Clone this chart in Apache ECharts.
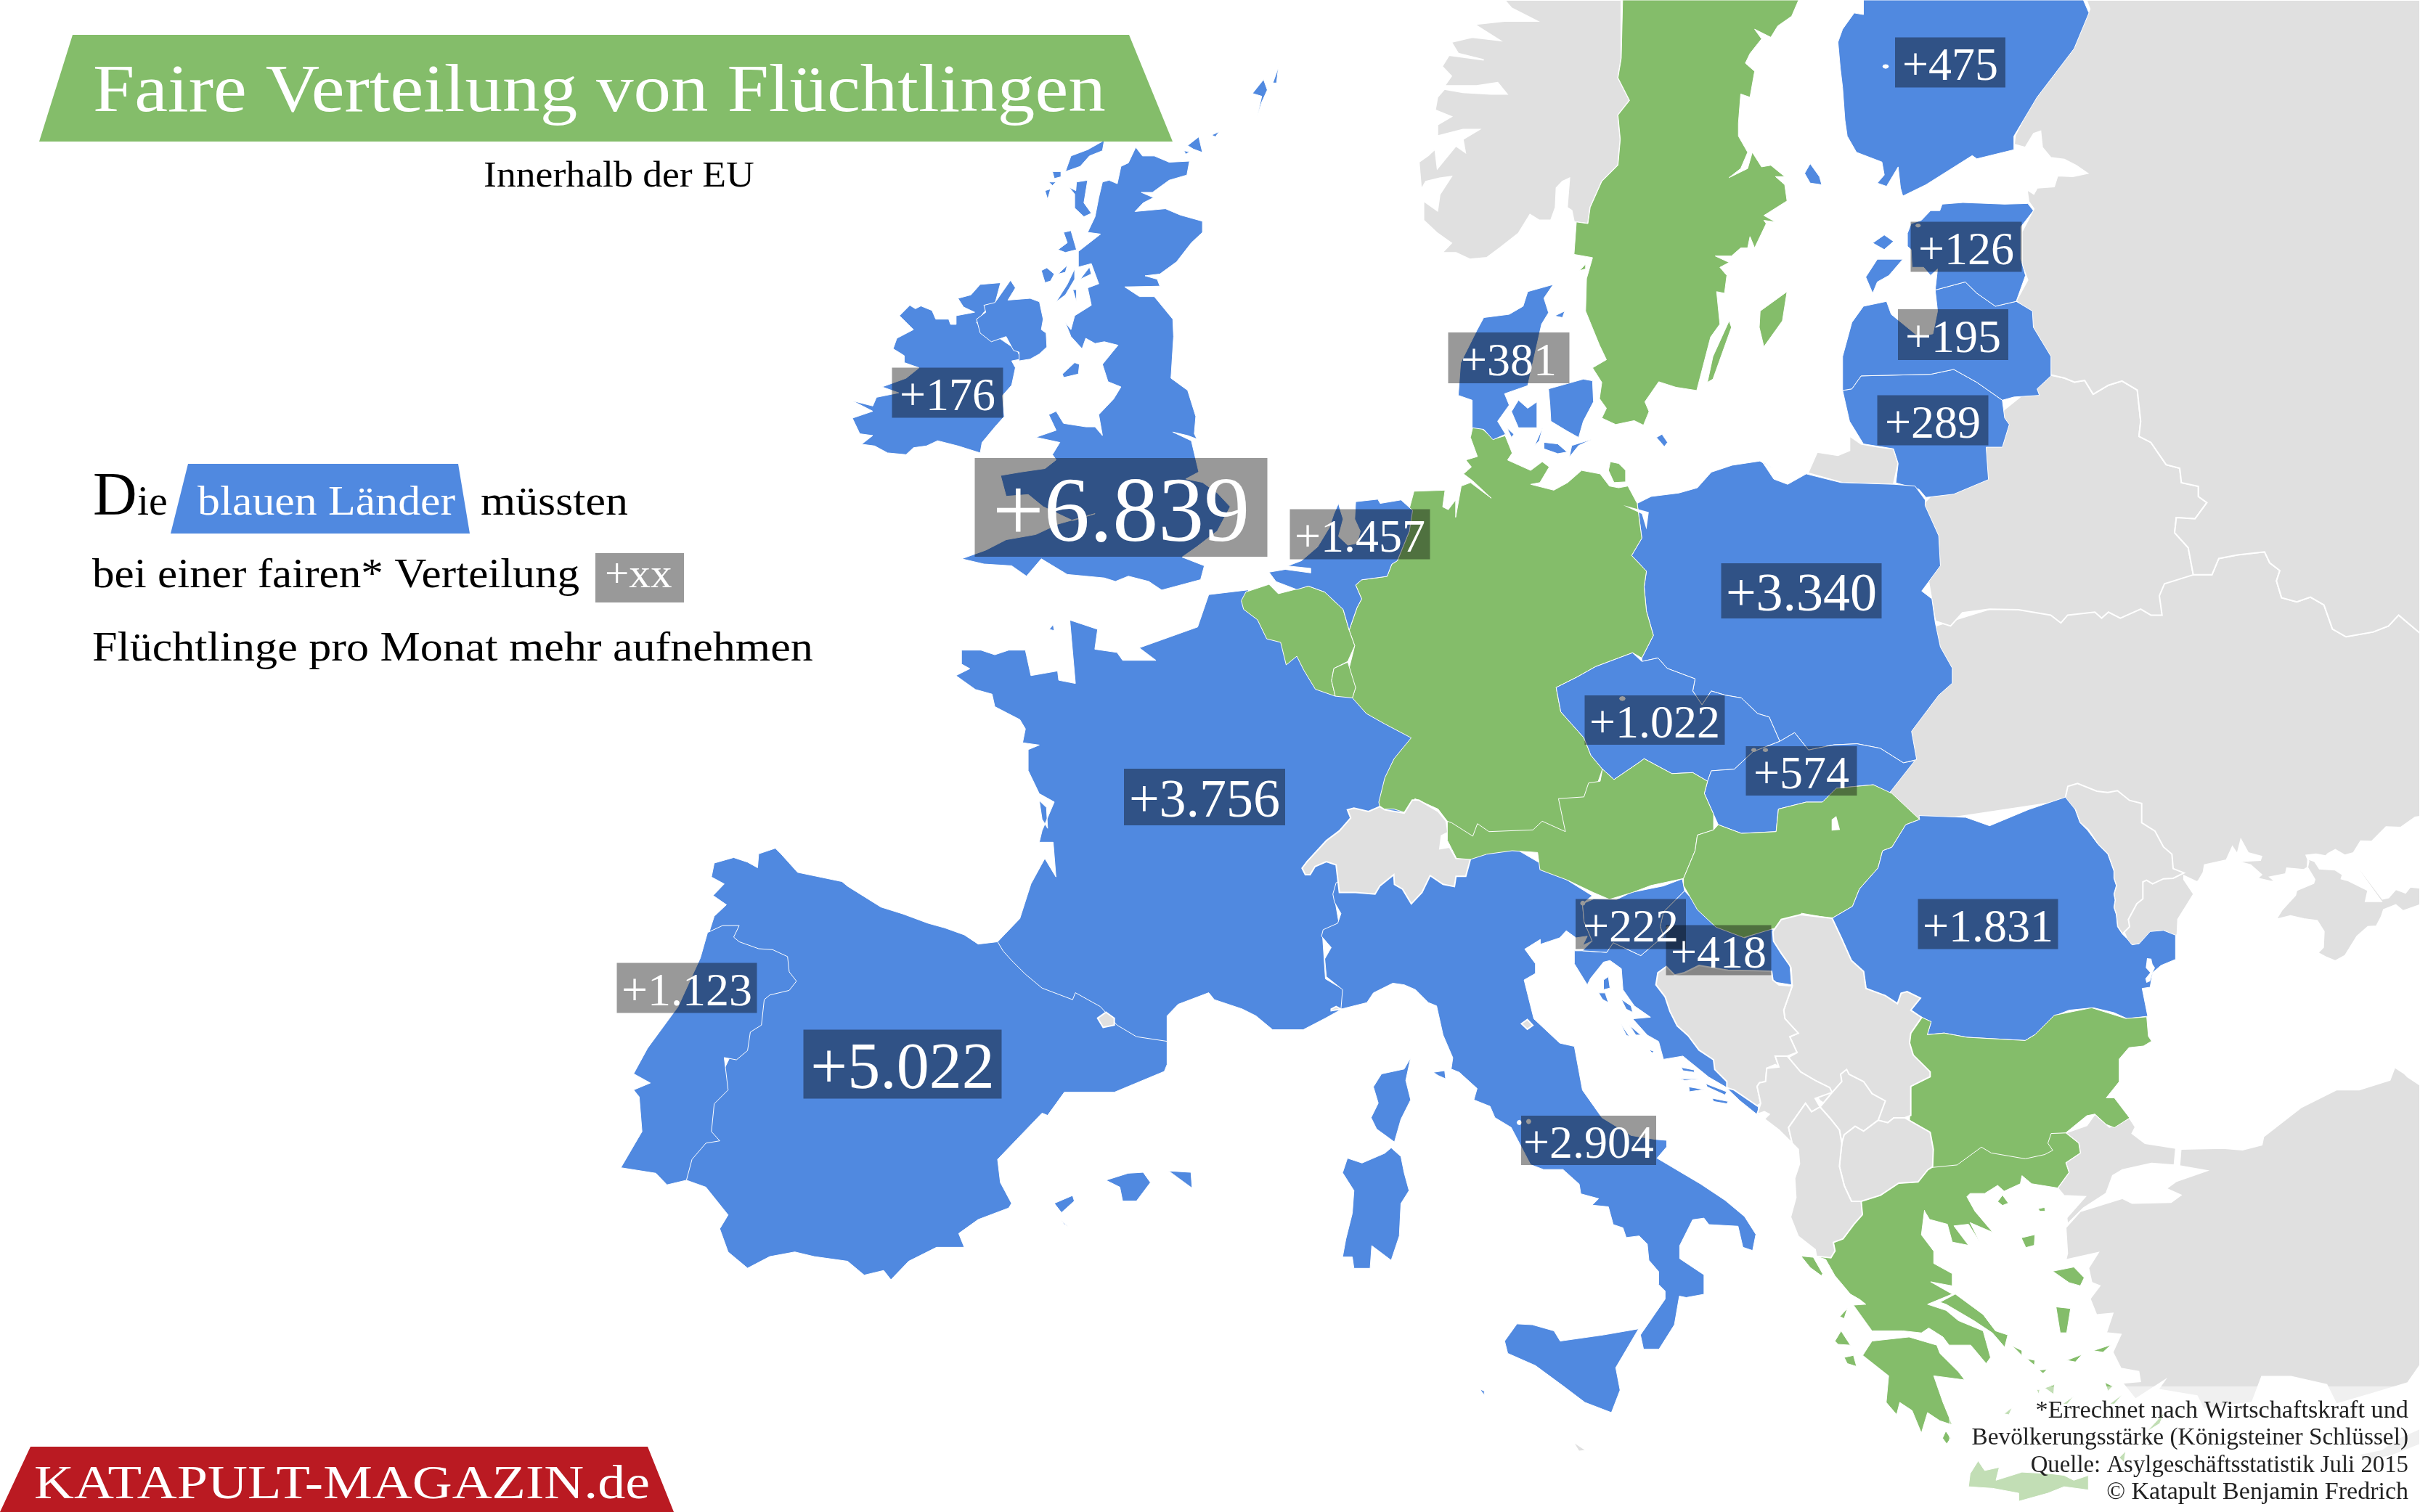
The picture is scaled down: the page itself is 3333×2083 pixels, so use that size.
<!DOCTYPE html>
<html>
<head>
<meta charset="utf-8">
<title>Faire Verteilung von Flüchtlingen</title>
<script src="https://cdn.jsdelivr.net/npm/echarts@6/dist/echarts.min.js"></script>
<style>html,body{margin:0;background:#fff}#main{width:3333px;height:2083px}</style>
</head>
<body>
<div id="main"></div>
<script>
// Daten: zusaetzliche Fluechtlinge pro Monat
var labelCountries = ['Vereinigtes Königreich','Spanien','Frankreich','Polen','Italien','Rumänien','Niederlande','Portugal','Tschechien','Slowakei','Finnland','Kroatien','Dänemark','Litauen','Slowenien','Lettland','Irland','Estland'];
var extraPerMonth = [6839,5022,3756,3340,2904,1831,1457,1123,1022,574,475,418,381,289,222,195,176,126];
var blueCountries = ['Vereinigtes Königreich','Irland','Nordirland','Spanien','Portugal','Frankreich','Italien','Polen','Rumänien','Niederlande','Tschechien','Slowakei','Finnland','Kroatien','Dänemark','Litauen','Slowenien','Lettland','Estland'];
var greenCountries = ['Schweden','Deutschland','Belgien','Luxemburg','Österreich','Ungarn','Griechenland','Bulgarien'];
var greyCountries = ['Ukraine','Belarus','Russland','Moldau','Kaliningrad','Türkei','Norwegen','Schweiz','Andorra','Serbien','Bosnien','Montenegro','Kosovo','Mazedonien','Albanien','Malta','San Marino','Monaco'];

var frames = {
  A:[1100,100,1.96,2.09], B:[1900,0,1.568,2.24], C:[800,800,1.3067,1.568], D:[1700,550,1.568,2.09],
  E:[2000,1200,1.176,1.776], F:[2600,0,2.139,1.206], G:[2833,1050,3,3], H:[2633,1383,2.24,2.24],
  I:[1800,1100,2.24,2.24], J:[2250,1250,3,3]
};
function ring(str){
  var f = null, out = [];
  str.trim().split(/\s+/).forEach(function(t){
    if (frames[t]) { f = frames[t]; return; }
    var p = t.split(',');
    out.push([f[0]+p[0]/f[2], -(f[1]+p[1]/f[3])]);
  });
  return out;
}
// kleine Loecher (Staedte), die unter den Kaesten grau durchscheinen
function dot(fr,x,y,r){
  var d = r*0.7;
  return fr+' '+(x-r)+','+y+' '+(x-d)+','+(y-d)+' '+x+','+(y-r)+' '+(x+d)+','+(y-d)+' '+(x+r)+','+y+' '+(x+d)+','+(y+d)+' '+x+','+(y+r)+' '+(x-d)+','+(y+d);
}

var shapes = {};
shapes['Ukraine'] = [
 'F 900,955 955,955 975,928 1030,922 1110,917 1125,935 1155,948 1145,965 1160,993 1205,1000 1245,992 1285,1005 1310,1045 1350,1058 1430,1050 1475,1040 1505,1022 1568,1052 G 1500,225 1480,228 1420,270 1360,268 1300,328 1255,326 1225,375 1190,385 1150,362 1120,378 1110,388 1070,380 1030,385 1040,410 1035,435 1020,445 950,438 945,462 880,475 905,495 960,497 880,492 750,462 830,478 845,465 800,425 745,410 840,405 845,390 790,375 760,320 745,380 725,350 700,405 610,425 605,455 585,490 578,495 525,470 525,485 565,545 500,650 497,715 300,760 200,500 100,260 30,160 F 80,1368 0,1330 30,1270 60,1210 140,1040 300,1012',
 'G 1037,400 1065,410 1085,440 1150,445 1180,465 1175,482 1205,490 1285,530 1275,575 1340,575 1225,415 1235,420 1345,565 1370,560 1400,525 1440,540 1460,515 1500,520 1500,590 1430,615 1400,590 1350,610 1340,640 1320,678 1285,680 1240,720 1190,800 1150,822 1110,805 1078,788 1100,765 1103,700 1075,655 1020,648 965,635 905,650 930,610 985,550 990,530 1060,500 1065,485 1035,435'
];
shapes['Belarus'] = ['F 470,623 480,623 520,628 550,635 580,632 605,655 650,640 690,633 735,648 745,700 740,725 775,735 820,772 860,778 865,802 915,808 915,825 940,835 905,862 850,860 845,885 885,910 900,955 815,970 800,990 808,1022 775,1022 745,1012 685,1027 650,1017 630,1027 610,1017 530,1022 510,1035 480,1022 385,1013 300,1012 220,1018 185,1040 140,1032 100,900 100,840 200,780 300,700'];
shapes['Russland'] = ['F 585,0 595,15 540,85 480,130 420,175 375,225 372,240 405,245 430,222 450,218 455,245 480,262 520,265 555,275 588,288 545,293 500,292 490,310 440,312 430,322 410,315 415,335 430,347 395,385 395,440 412,465 378,500 420,520 430,555 478,595 480,623 520,628 550,635 580,632 605,655 650,640 690,633 735,648 745,700 740,725 775,735 820,772 860,778 865,802 915,808 915,825 940,835 905,862 850,860 845,885 885,910 900,955 955,955 975,928 1030,922 1110,917 1125,935 1155,948 1145,965 1160,993 1205,1000 1245,992 1285,1005 1310,1045 1350,1058 1430,1050 1475,1040 1505,1022 1568,1052 1568,0'];
shapes['Moldau'] = ['G 35,145 45,100 85,88 165,120 210,125 250,118 300,158 350,170 350,250 405,285 440,350 475,380 480,440 525,458 480,480 440,482 395,503 370,488 355,495 355,565 330,585 295,650 300,680 270,710 250,680 245,630 235,600 240,570 235,545 245,510 235,480 235,450 210,380 170,340 130,280 95,250 75,195 40,180'];
shapes['Kaliningrad'] = ['B 1015,1345 1015,1390 990,1405 945,1395 925,1460 1000,1490 1110,1495 1120,1430 1110,1385 1080,1380 1040,1370'];
shapes['Türkei'] = [
 'H 1568,250 1530,225 1520,215 1490,195 1475,235 1380,265 1310,265 1200,320 1085,410 1080,435 1020,450 960,445 830,448 826,500 910,515 815,548 785,570 830,590 800,612 680,615 650,600 520,640 475,690 480,770 475,790 575,768 545,815 555,860 580,870 550,910 570,960 620,955 600,1015 645,1020 620,1075 645,1125 700,1135 705,1165 650,1170 690,1220 780,1162 760,1190 880,1210 900,1250 1050,1230 1080,1150 1170,1150 1280,1175 1310,1235 1430,1200 1530,1170 1568,1115',
 'H 672,352 690,380 680,400 720,430 815,445 810,498 740,492 650,512 620,530 600,585 530,630 480,680 478,660 535,595 470,592 450,568 485,520 475,490 520,460 515,430 475,398 540,375 565,340 610,380 640,370',
 'H 1568,1310 1500,1340 1450,1375 1380,1390 1400,1410 1480,1395 1568,1360'
];
shapes['Norwegen'] = ['B 522,0 522,180 515,240 540,310 515,355 520,430 515,510 480,560 455,640 450,690 420,685 415,650 405,640 410,550 395,560 382,580 380,640 370,680 345,680 325,662 300,720 260,765 232,795 195,800 165,780 135,780 155,750 125,720 95,680 95,620 125,650 130,600 155,545 130,550 100,560 90,585 85,500 105,480 120,460 125,520 165,450 185,470 180,430 215,400 180,400 125,420 125,385 155,360 120,340 125,300 140,275 180,285 240,290 275,290 255,255 210,265 140,265 155,235 135,205 150,170 225,185 170,165 155,130 200,115 260,125 205,75 270,65 340,65 285,25 270,0'];
shapes['Schweden'] = [
 'B 525,0 522,180 515,240 540,310 515,355 520,430 515,510 480,560 455,640 450,690 425,685 420,785 460,795 447,860 445,960 475,1065 490,1110 460,1135 480,1180 475,1230 490,1260 480,1290 510,1310 550,1298 570,1312 582,1270 573,1240 603,1178 640,1195 685,1205 715,1040 735,1000 728,900 745,905 750,850 735,825 755,810 725,790 760,790 780,765 795,765 800,730 810,765 835,690 830,680 855,685 830,665 880,620 875,570 855,545 875,545 845,510 825,515 805,470 795,520 755,548 780,520 795,470 775,420 775,380 780,290 800,300 810,220 790,195 800,165 825,120 810,90 845,115 860,80 890,50 905,0',
 'B 822,960 880,900 870,990 830,1070 820,1010', 'B 708,1180 720,1100 755,990 760,1010 720,1170', 'B 432,835 445,815 445,830'
];
shapes['Finnland'] = ['B 1045,0 1045,45 1025,40 1000,90 990,130 995,210 1000,270 1005,370 1010,420 1030,470 1085,500 1090,540 1075,565 1095,575 1120,515 1125,580 1130,605 1180,570 1280,480 1290,490 1370,462 1370,420 1420,300 1500,150 1532,40 1520,0','B 918,535 930,505 950,545 955,570 930,565'];
shapes['Litauen'] = ['B 1000,1205 1020,1200 1040,1160 1190,1155 1240,1140 1290,1180 1345,1235 1350,1290 1360,1310 1345,1380 1310,1380 1315,1480 1240,1525 1180,1535 1165,1510 1115,1490 1120,1430 1110,1385 1045,1370 1015,1300'];
shapes['Lettland'] = ['B 1000,1205 1000,1100 1020,995 1045,945 1095,930 1105,970 1165,1040 1195,1030 1205,960 1200,895 1265,870 1290,905 1330,945 1375,930 1410,960 1412,1010 1450,1100 1450,1160 1420,1200 1425,1220 1370,1225 1345,1235 1290,1180 1240,1140 1190,1155 1040,1160 1020,1200'];
shapes['Estland'] = ['B 1170,680 1190,650 1210,650 1215,630 1260,625 1350,630 1400,628 1412,650 1385,700 1385,800 1395,850 1375,930 1330,945 1290,905 1265,870 1200,895 1205,830 1190,850 1175,825 1150,825 1148,770 1140,760 1140,720 1148,690','B 1050,855 1075,800 1130,800 1100,850 1075,870 1065,905','B 1065,750 1090,725 1110,745 1090,770'];
shapes['Polen'] = ['D 870,300 900,280 960,270 1000,255 1030,210 1075,190 1135,178 1165,200 1140,180 1165,230 1195,245 1235,215 1310,240 1425,245 1470,250 1492,290 F 110,840 150,890 155,940 100,982 130,995 140,1035 155,1075 190,1110 190,1135 150,1155 70,1215 85,1262 D 1445,1047 1395,1005 1345,992 1295,995 1240,1010 1210,960 1178,985 1155,915 1130,905 1095,860 1060,852 1030,840 1010,880 990,840 995,805 935,775 915,745 880,755 880,745 905,680 890,610 885,540 890,495 858,450 880,400'];
shapes['Spanien'] = ['C 750,780 715,785 690,765 655,750 625,740 580,720 540,705 480,660 470,650 390,630 360,590 350,578 320,590 318,620 300,608 275,598 240,610 235,640 258,655 238,680 262,700 240,725 232,755 240,800 280,1000 200,1200 190,1295 225,1310 265,1370 250,1400 265,1450 300,1485 340,1460 385,1450 420,1460 480,1470 510,1500 545,1490 558,1510 590,1470 640,1440 690,1440 680,1410 715,1380 770,1355 775,1345 755,1300 750,1250 830,1150 840,1155 855,1130 870,1105 960,1105 1000,1085 1050,1060 1055,1045 1055,995 1000,960 880,880 780,790','C 945,1295 985,1280 1012,1278 1025,1300 1000,1340 975,1340 970,1310','C 1058,1275 1098,1278 1100,1312 1075,1290','C 852,1345 885,1328 888,1340 865,1365','C 865,1382 877,1395 870,1390'];
shapes['Portugal'] = ['C 228,760 255,745 285,745 275,770 285,780 320,795 345,797 372,812 375,845 388,865 375,885 340,895 330,905 325,960 305,975 300,1015 280,1035 258,1030 265,1100 240,1130 235,1190 250,1210 225,1215 200,1250 190,1295 155,1305 135,1280 72,1268 110,1190 105,1115 95,1100 125,1085 95,1065 120,1010 175,920 215,815'];
shapes['Frankreich'] = ['C 1130,30 1110,100 1005,145 1035,172 975,172 965,155 925,148 930,105 880,85 890,222 860,215 858,195 810,205 800,150 770,150 745,160 720,150 685,150 685,180 700,190 675,205 710,235 740,245 745,272 790,300 800,320 795,350 825,355 805,365 805,410 825,460 852,478 830,540 825,565 850,565 855,640 835,600 810,655 790,730 750,780 760,800 775,820 800,850 830,880 885,905 890,890 935,920 965,960 1000,985 1055,995 1055,940 1075,915 1130,890 1140,905 1190,925 1215,940 1245,970 1300,970 1340,945 1370,925 1375,885 1340,860 1335,770 1365,745 1355,675 1400,600 1500,500 1500,340 1400,200 1300,100 1200,20','C 825,475 838,490 840,535 830,515','C 843,105 850,95 852,108'];
shapes['Andorra'] = ['C 930,945 945,932 960,945 960,960 940,965'];
shapes['Italien'] = [
 'I 80,295 85,320 105,355 95,385 50,405 45,425 75,460 55,495 60,550 110,590 105,650 185,630 205,600 265,570 300,575 335,590 375,630 400,640 420,730 450,800 445,835 470,845 525,895 515,930 565,950 580,985 630,1015 690,1130 730,1145 790,1145 840,1190 845,1220 900,1235 880,1255 930,1260 945,1315 975,1325 985,1355 1025,1350 1050,1375 1055,1425 1085,1460 1085,1500 1105,1520 1105,1545 E 305,1135 310,1170 335,1170 360,1110 368,1040 I 1170,1540 1225,1530 1225,1470 1150,1420 1150,1380 1190,1300 1225,1295 1240,1315 1330,1320 1345,1385 1375,1395 1385,1345 1350,1290 1290,1240 1215,1190 1080,1110 1110,1075 1110,1055 1075,1052 1000,1040 910,985 850,900 825,765 780,755 700,680 670,560 705,540 705,510 672,465 720,435 720,450 780,430 800,408 830,430 865,425 850,455 825,465 880,440 855,380 850,325 880,300 720,200 600,130 450,130 430,180 200,200 90,260',
 'I 390,845 425,840 428,865 405,855',
 'E 85,1150 105,1108 130,1110 165,1125 175,1150 245,1135 302,1120 265,1215 272,1270 258,1325 215,1300 180,1260 135,1210 90,1180',
 'E 45,1268 52,1272 52,1282',
 'I 125,1110 170,1125 240,1095 260,1078 290,1105 300,1155 315,1210 290,1250 285,1350 260,1425 200,1380 195,1450 145,1450 140,1415 110,1415 120,1360 140,1280 145,1210 110,1155',
 'I 320,800 305,870 320,930 290,990 270,1060 215,1020 198,985 220,940 205,890 230,850 300,835'
];
shapes['San Marino'] = ['I 662,695 680,682 697,700 680,712'];
shapes['Monaco'] = ['I 75,650 90,642 105,650 75,655'];
shapes['Malta'] = ['E 195,1395 218,1418 205,1420'];
shapes['Kroatien'] = [
 'I 1165,285 1215,340 1270,395 1350,430 1435,400 1465,470 1490,515 1495,575 1400,560 1200,700 1300,850 J 385,745 I 1240,860 1160,795 1100,805 1085,750 1050,730 1005,680 1060,675 1010,640 975,590 970,525 935,500 915,505 875,555 865,575 825,510 825,470 850,470 925,475 945,445 1030,485 1100,425 1090,395 1100,350',
 'J 388,750 420,755 515,825 515,860 440,800',
 'I 900,600 920,600 930,630 912,620','I 915,560 930,550 935,585 915,590','I 970,620 1000,640 1005,660 985,650','I 968,695 995,735 985,730','I 995,700 1030,730 1015,730','I 1055,775 1070,780 1065,785','I 1155,830 1195,838 1195,845 1160,840','I 1150,865 1220,865 1165,870','I 1178,890 1225,898 1180,905','I 1230,880 1295,905 1290,915 1235,890','I 1250,925 1300,935 1295,942 1255,935'
];
shapes['Slowenien'] = ['I 850,325 885,310 955,312 1000,290 1100,270 1158,248 1165,285 1100,350 1090,395 1100,425 1030,485 945,445 925,475 850,470 880,440 855,380'];
shapes['Deutschland'] = [
 'D 515,80 535,85 560,115 585,105 600,155 590,175 640,205 665,180 680,195 660,240 640,245 690,262 720,240 750,205 790,215 810,250 830,255 850,250 870,300 880,400 858,450 890,495 885,540 890,610 905,680 880,745 860,730 830,745 780,770 740,800 695,830 705,900 755,975 770,1025 795,1065 760,1200 720,1290 480,1290 465,1240 460,1215 440,1180 390,1150 380,1195 345,1180 315,1180 312,1160 325,1090 345,1035 382,975 325,935 285,905 255,860 262,830 245,790 260,710 248,665 265,600 275,575 262,535 275,520 330,510 340,475 352,465 378,380 378,315 388,265 455,262 450,310 462,318 478,290 478,340 490,250 510,240 555,285 515,235 495,215 512,195 500,175 525,165 510,110',
 'D 812,180 830,185 845,205 845,238 820,240 808,205'
];
shapes['Tschechien'] = ['D 695,830 740,800 780,770 830,745 860,730 880,755 915,745 935,775 995,805 990,840 1010,880 1030,840 1060,852 1095,860 1130,905 1155,915 1178,985 1120,1015 1080,1065 1030,1070 1022,1100 990,1075 945,1078 885,1035 875,1045 820,1095 795,1065 770,1025 755,975 705,900'];
shapes['Slowakei'] = ['D 1178,985 1210,960 1240,1010 1295,995 1345,992 1395,1005 1445,1047 1470,1040 1414,1135 1380,1110 1300,1120 1270,1160 1235,1160 1175,1180 1170,1245 1095,1250 1045,1225 1035,1195 1015,1135 1022,1100 1030,1070 1080,1065 1120,1015'];
shapes['Schweiz'] = ['I -15,215 0,195 60,130 100,100 135,60 125,35 145,30 190,40 225,25 240,35 300,45 325,5 345,5 405,40 430,70 435,105 415,115 410,155 440,150 460,185 505,185 490,240 460,240 455,272 420,265 380,238 355,290 322,325 295,280 270,265 268,235 225,270 210,295 150,290 100,290 90,205 60,195 25,210 10,235 -5,235'];
shapes['Österreich'] = ['D 460,1215 470,1220 515,1258 525,1222 550,1245 645,1240 665,1215 715,1245 700,1150 755,1145 765,1105 790,1100 795,1065 820,1095 875,1045 885,1035 945,1078 990,1075 1022,1100 1015,1135 1035,1195 1035,1240 1000,1255 995,1300 970,1380 900,1400 860,1420 810,1440 775,1420 720,1385 660,1355 655,1305 600,1300 545,1310 510,1325 480,1322 460,1270'];
shapes['Ungarn'] = ['D 1035,1240 1045,1225 1095,1250 1170,1245 1175,1180 1235,1160 1270,1160 1300,1120 1380,1110 1420,1135 1480,1210 1450,1225 1420,1290 1400,1300 1390,1350 1350,1410 1335,1460 1290,1495 1225,1480 1200,1510 1100,1550 1040,1520 1000,1470 970,1400 970,1380 995,1300 1000,1255'];
shapes['Rumänien'] = ['F 92,1355 230,1358 300,1372 415,1345 520,1325 G 35,145 75,195 95,250 125,280 170,340 210,380 235,450 235,480 245,510 235,545 240,570 235,600 245,630 250,680 270,710 290,730 310,755 340,750 385,700 440,695 490,715 490,815 430,840 395,870 385,930 352,935 375,1050 290,1060 235,1035 150,1015 50,1025 0,1045 H 440,35 380,95 350,113 170,103 100,90 48,95 60,55 28,40 J 1145,425 1185,375 1130,348 1105,355 1090,398 1040,365 960,335 950,265 900,220 860,130 820,45 D 1290,1495 1335,1460 1350,1410 1390,1350 1400,1300 1420,1290 1450,1225 1480,1210'];
shapes['Griechenland'] = [
 'J 1235,1072 1215,1085 1175,1135 1095,1140 1020,1190 940,1215 945,1270 910,1310 865,1370 825,1385 832,1420 815,1448 755,1442 E 605,950 620,990 645,1035 660,1048 670,1060 650,1062 680,1125 730,1125 760,1130 772,1118 795,1140 805,1160 840,1160 865,1205 872,1190 860,1125 820,1100 800,1075 770,1060 810,1035 775,1005 810,1015 810,985 780,960 780,930 760,890 765,830 H 40,640 55,665 110,680 125,735 175,745 130,685 175,680 210,735 180,675 250,705 195,640 170,595 180,585 225,585 265,560 285,578 335,555 340,530 370,555 450,568 485,520 475,490 520,460 515,430 475,398 300,400 80,420',
 'E 680,1150 740,1140 785,1160 790,1180 820,1225 830,1245 805,1240 780,1235 795,1300 810,1355 790,1345 770,1325 760,1375 745,1320 725,1300 720,1330 703,1300 707,1235 665,1185',
 'E 815,1035 860,1085 880,1125 900,1135 895,1165 875,1130 845,1100 800,1060 790,1055',
 'H 265,610 280,590 298,615 280,622','H 390,632 410,628 412,640 395,640','H 338,722 380,712 378,745 352,752','H 435,825 500,812 532,845 520,870 485,860','H 445,935 490,940 478,1015 458,1015','H 560,1070 615,1052 590,1075','H 478,1100 525,1082 505,1105','H 392,1130 418,1128 405,1140','H 310,1055 340,1070 340,1085','H 355,1095 380,1100 378,1115','H 596,1168 620,1180 605,1195','H 725,1320 780,1260 765,1295','H 175,1490 180,1450 205,1410 225,1440 270,1430 260,1470 340,1445 430,1450 470,1455 500,1470 545,1455 545,1500 470,1490 420,1510 330,1535 330,1510 250,1495','H 410,1185 440,1175 438,1205','H 465,1235 500,1210 480,1235','H 610,1235 650,1205 625,1235','H 285,1265 310,1245 300,1268','H 105,1318 120,1340 108,1358 95,1340','H 640,1400 660,1380 655,1415','H 385,1190 395,1190 392,1205',
 'E 565,942 585,945 600,985 598,990 580,970','E 628,1090 640,1070 635,1095','E 620,1150 630,1125 645,1160 625,1158','E 635,1190 650,1185 655,1212 640,1205'
];
shapes['Bulgarien'] = ['H 28,40 60,55 48,95 100,90 170,103 350,113 380,95 440,35 555,12 660,45 725,40 730,100 740,115 715,130 670,135 640,170 640,240 600,290 625,290 672,352 625,382 600,372 565,340 540,345 475,398 430,400 420,430 435,452 410,465 350,478 245,460 215,442 140,497 60,505 J 1235,1072 1238,1000 1225,930 1140,880 1145,740 1225,700 1225,680 1155,610 1140,560 1145,520 1190,455'];
shapes['Serbien'] = ['J 575,100 610,50 690,30 820,45 860,130 900,220 950,265 960,335 1040,365 1090,398 1105,355 1130,348 1185,375 1145,425 1190,455 1145,520 1140,560 1155,610 1225,680 1225,700 1145,740 1145,860 1120,870 1075,870 1050,890 1010,880 900,880 770,800 640,620 675,600 645,535 680,520 625,460 620,425 655,325 650,250 645,240 610,190 578,140'];
shapes['Bosnien'] = ['J 100,270 92,320 130,370 150,430 180,490 225,530 270,590 330,630 335,670 385,720 385,745 415,755 510,820 525,810 510,740 520,725 545,720 550,665 585,650 600,660 585,615 635,615 675,600 645,535 680,520 625,460 620,425 655,325 600,320 575,300 570,265 500,262 390,260 270,240 210,270 170,280 135,245'];
shapes['Montenegro'] = ['J 585,615 635,615 690,680 750,715 810,745 820,765 750,790 770,825 735,845 710,810 640,910 655,975 600,920 540,875 560,855 540,845 510,855 525,810 510,740 520,725 545,720 550,665 600,660'];
shapes['Kosovo'] = ['J 770,825 820,765 860,720 855,690 880,670 890,690 950,720 985,770 1040,800 1010,880 950,925 915,905 870,940 860,975 850,920 810,870'];
shapes['Mazedonien'] = ['J 860,975 870,940 915,905 950,925 1010,880 1050,890 1075,870 1120,870 1225,930 1238,1000 1235,1072 1215,1085 1175,1135 1095,1140 1020,1190 940,1215 900,1215 870,1150 850,1070'];
shapes['Albanien'] = ['J 655,975 640,910 710,810 735,845 770,825 810,870 850,920 860,975 850,1070 870,1150 900,1215 940,1215 945,1270 910,1310 865,1370 825,1385 832,1420 815,1448 755,1442 750,1415 680,1360 648,1280 670,1200 665,1120 685,1060 680,1000'];
shapes['Dänemark'] = ['B 375,878 345,890 320,900 310,945 280,970 225,980 210,1020 175,1120 170,1220 200,1235 200,1320 225,1325 245,1357 272,1340 255,1300 280,1250 270,1215 320,1190 350,1000 365,965 355,920','B 365,1200 440,1170 460,1175 462,1240 440,1300 430,1350 405,1330 370,1300 368,1250','B 285,1270 300,1235 320,1260 340,1240 340,1320 300,1320','B 355,1365 385,1370 405,1395 385,1400 355,1385','B 410,1410 415,1375 460,1355 430,1375','B 335,1375 352,1320 345,1360','B 275,1320 290,1340 285,1350','B 378,975 400,960 395,980','B 598,1350 610,1340 622,1365 615,1378'];
shapes['Belgien'] = ['D 15,580 25,555 75,533 95,560 160,538 195,555 235,605 248,665 260,710 245,755 215,775 210,810 218,855 175,835 150,780 135,740 112,765 100,700 70,690 50,635 20,605'];
shapes['Luxemburg'] = ['D 245,757 262,830 255,860 218,855 210,810 215,775'];
shapes['Niederlande'] = ['D 145,465 180,425 205,370 215,330 225,300 228,315 235,345 225,395 245,420 265,415 272,380 260,345 262,295 310,288 315,300 360,290 385,320 378,380 352,465 340,475 330,510 275,520 262,535 275,575 265,600 248,665 235,605 195,555 160,538 135,548 90,525 75,498 110,490 165,500 165,487 115,480'];
shapes['Vereinigtes Königreich'] = [
 'A 910,215 928,240 960,240 1000,258 1055,255 1048,295 1000,310 955,345 925,345 958,360 930,375 908,400 990,392 1030,410 1090,428 1090,460 1060,490 1020,545 975,580 935,585 968,595 975,615 880,617 920,645 960,645 1010,710 1012,760 1005,880 1050,915 1072,990 1068,1040 1075,1055 1050,1045 1010,1035 1060,1060 1080,1150 1045,1170 1090,1180 1130,1210 1165,1250 1130,1320 1075,1365 1035,1395 1095,1420 1085,1460 980,1490 945,1465 890,1450 855,1465 825,1455 775,1450 725,1445 655,1400 615,1450 575,1420 500,1415 460,1405 440,1400 505,1375 560,1345 640,1330 700,1300 800,1270 740,1290 660,1250 620,1215 560,1220 545,1160 600,1150 665,1140 695,1115 685,1100 705,1065 640,1050 695,1030 675,985 695,975 715,1010 775,1020 800,1020 820,1045 810,985 850,940 870,905 835,890 820,840 862,785 825,775 800,780 775,765 765,795 735,760 720,720 735,740 745,700 790,670 780,620 810,608 790,550 755,560 755,515 815,465 780,460 800,415 810,360 820,315 838,310 860,320 870,270 890,260',
 'A 712,868 745,835 758,840 755,868 715,878','A 735,240 780,222 825,195 820,225 785,240 760,270 720,285','A 685,285 708,285 708,300 690,305','A 675,315 695,315 685,325','A 665,340 680,335 672,365','A 730,330 748,340 750,315 780,310 770,375 790,405 770,415 745,390 745,350','A 700,510 725,490 715,460 735,455 750,510 720,518','A 655,570 670,562 690,580 680,600 665,605','A 700,580 725,555 720,575','A 695,660 725,610 745,565 745,595 720,640','A 740,625 750,625 750,660','A 760,595 785,560 790,580','A 1050,210 1080,185 1090,230 1065,220','A 1115,180 1135,170 1125,185','A 1040,225 1055,228 1045,235','A 1225,60 1255,20 1265,50 1250,85 1238,125 1250,68','A 1280,30 1295,-15 1290,30'
];
shapes['Irland'] = ['A 545,605 490,610 465,640 430,650 445,675 475,690 425,700 425,725 410,725 405,710 370,710 360,685 330,672 315,680 300,670 272,700 310,740 265,765 255,795 285,815 285,835 325,850 290,880 225,905 270,922 210,935 200,960 145,945 200,975 145,995 165,1040 200,1045 170,1070 205,1075 240,1095 290,1100 310,1080 345,1075 375,1060 430,1075 490,1095 495,1065 530,1020 555,990 550,930 575,900 585,850 575,830 600,825 590,800 480,720 500,690 530,665'];
shapes['Nordirland'] = ['A 530,662 500,670 505,690 480,710 490,750 520,775 560,760 580,800 595,805 595,830 625,825 650,810 670,790 668,750 655,740 660,710 650,660 625,650 565,655 585,620 572,598'];
shapes['Wasser'] = [
 'G 372,810 390,812 395,835 405,850 395,870 385,905 370,912 365,895 385,870 367,850',
 'D 1290,1210 1300,1200 1308,1240 1290,1242',
 'D 840,305 895,325 890,375 880,330',
 dot('B',1093,205,7), dot('B',1163,696,6), dot('B',188,1040,4), dot('B',1135,965,3), dot('A',272,860,4), dot('D',838,862,7), dot('D',1122,1010,6), dot('D',1147,1010,6), dot('I',851,323,8), dot('I',1115,400,7), dot('I',655,1000,8), dot('I',684,997,8)
];

var drawOrder = ['Ukraine','Belarus','Russland','Moldau','Kaliningrad','Türkei','Norwegen','Schweden','Finnland','Litauen','Lettland','Estland','Polen','Spanien','Portugal','Frankreich','Andorra','Italien','San Marino','Monaco','Malta','Kroatien','Slowenien','Deutschland','Tschechien','Slowakei','Schweiz','Österreich','Ungarn','Rumänien','Griechenland','Bulgarien','Serbien','Bosnien','Montenegro','Kosovo','Mazedonien','Albanien','Dänemark','Belgien','Luxemburg','Niederlande','Irland','Nordirland','Vereinigtes Königreich','Wasser'];

echarts.registerMap('europa', {
  type: 'FeatureCollection',
  features: drawOrder.map(function(name){
    return {type:'Feature', properties:{name:name},
      geometry:{type:'MultiPolygon', coordinates: shapes[name].map(function(s){ return [ring(s)]; })}};
  })
});

function regionStyle(names, color, width){
  return names.map(function(n){
    return {name:n, silent:true, itemStyle:{areaColor:color, borderColor:'#fff', borderWidth:width}};
  });
}
var regions = regionStyle(blueCountries,'#5089e0',1)
  .concat(regionStyle(greenCountries,'#84bd6a',1))
  .concat(regionStyle(greyCountries,'#e0e0e0',2))
  .concat([{name:'Wasser', silent:true, itemStyle:{areaColor:'#fff', borderWidth:0}}]);

// Lage und Groesse der Zahlenkaesten (Mittelpunkt, Breite, Hoehe, Schrift)
var boxCenters = [[1544,699],[1243,1466],[1659,1098],[2481,814],[2188,1571],[2738,1273],[1873,736],[946,1361],[2279,992],[2481,1062],[2686,86],[2367,1309],[2078,493],[2662,579],[2246,1273],[2690,461],[1305,541],[2708,340]];
var boxSizes = [[403,136],[273,95],[222,78],[221,76],[186,68],[193,69],[193,69],[193,69],[193,68],[153,68],[152,69],[145,69],[167,70],[153,69],[152,69],[152,70],[153,69],[153,69]];
var boxFonts = [126,90,74,74,64,64,64,64,64,64,64,64,64,64,64,64,64,64];

function deNumber(v){
  var s = String(v);
  return s.length > 3 ? s.slice(0,-3)+'.'+s.slice(-3) : s;
}
// zwei Lagen: erst die Kaesten, darueber die Zahlen (sitzen im Original etwas unter der Mitte)
var boxData = labelCountries.map(function(name,i){
  return {
    name: name,
    value: [boxCenters[i][0], -boxCenters[i][1], extraPerMonth[i]],
    label: {width:boxSizes[i][0], height:boxSizes[i][1]}
  };
});
var numberData = labelCountries.map(function(name,i){
  return {
    name: name,
    value: [boxCenters[i][0], -boxCenters[i][1], extraPerMonth[i]],
    label: {fontSize:boxFonts[i], offset:[0, Math.round(boxFonts[i]*0.105)]}
  };
});

var SERIF = '"Liberation Serif"';
function txt(x, base, text, size, fill, align, sx){
  return {type:'text', z:20, silent:true, x:x, y:base-0.29*size, scaleX:sx||1,
    style:{x:0, y:0, text:text, fill:fill||'#000', font:size+'px '+SERIF, align:align||'left', verticalAlign:'middle'}};
}
function poly(points, fill){
  return {type:'polygon', z:15, silent:true, shape:{points:points}, style:{fill:fill}};
}

var myChart = echarts.init(document.getElementById('main'), null, {renderer:'canvas'});
myChart.setOption({
  animation: false,
  backgroundColor: '#fff',
  geo: {
    map: 'europa',
    left: 0, top: 0, right: 0, bottom: 0,
    aspectScale: 1,
    boundingCoords: [[0,0],[3333,-2083]],
    roam: false,
    silent: true,
    label: {show:false},
    itemStyle: {areaColor:'#e0e0e0', borderColor:'#fff', borderWidth:1},
    regions: regions
  },
  series: [{
    type: 'scatter',
    coordinateSystem: 'geo',
    symbolSize: 0,
    silent: true,
    z: 5,
    itemStyle: {opacity:1},
    label: {
      show: true,
      position: 'inside',
      align: 'center',
      verticalAlign: 'middle',
      opacity: 1,
      backgroundColor: 'rgba(0,0,0,0.4)',
      formatter: function(){ return ' '; }
    },
    data: boxData
  }, {
    type: 'scatter',
    coordinateSystem: 'geo',
    symbolSize: 0,
    silent: true,
    z: 6,
    itemStyle: {opacity:1},
    label: {
      show: true,
      position: 'inside',
      align: 'center',
      verticalAlign: 'middle',
      color: '#fff',
      opacity: 1,
      fontFamily: SERIF,
      formatter: function(p){ return '+'+deNumber(p.value[2]); }
    },
    data: numberData
  }],
  graphic: [
    poly([[100,48],[1555,48],[1615,195],[54,195]],'#84bd6a'),
    txt(128,156,'Faire Verteilung von Flüchtlingen',94,'#fff','left',1.097),
    txt(666,258,'Innerhalb der EU',50,'#000','left',1.074),
    txt(128,711,'D',84),
    txt(189,711,'ie',58),
    poly([[259,639],[631,639],[647,735],[235,735]],'#5089e0'),
    txt(272,711,'blauen Länder',58,'#fff','left',1.065),
    txt(662,711,'müssten',58,'#000','left',1.067),
    txt(127,811,'bei einer fairen* Verteilung',58,'#000','left',1.055),
    {type:'rect', z:15, silent:true, shape:{x:820,y:762,width:122,height:68}, style:{fill:'#999'}},
    txt(833,811,'+xx',58,'#fff','left',1.02),
    txt(127,912,'Flüchtlinge pro Monat mehr aufnehmen',58,'#000','left',1.07),
    {type:'rect', z:15, silent:true, shape:{x:2684,y:1910,width:649,height:173}, style:{fill:'rgba(255,255,255,0.5)'}},
    txt(3317,1954,'*Errechnet nach Wirtschaftskraft und',34,'#222','right',1.008),
    txt(3317,1991,'Bevölkerungsstärke (Königsteiner Schlüssel)',34,'#222','right',0.98),
    txt(3317,2029,'Quelle: Asylgeschäftsstatistik Juli 2015',34,'#222','right',0.965),
    txt(3317,2066,'© Katapult Benjamin Fredrich',34,'#222','right'),
    poly([[42,1993],[892,1993],[928,2083],[0,2083]],'#ba1a22'),
    txt(47,2066,'KATAPULT-MAGAZIN.de',65,'#fff','left',1.17)
  ]
});
</script>
</body>
</html>
